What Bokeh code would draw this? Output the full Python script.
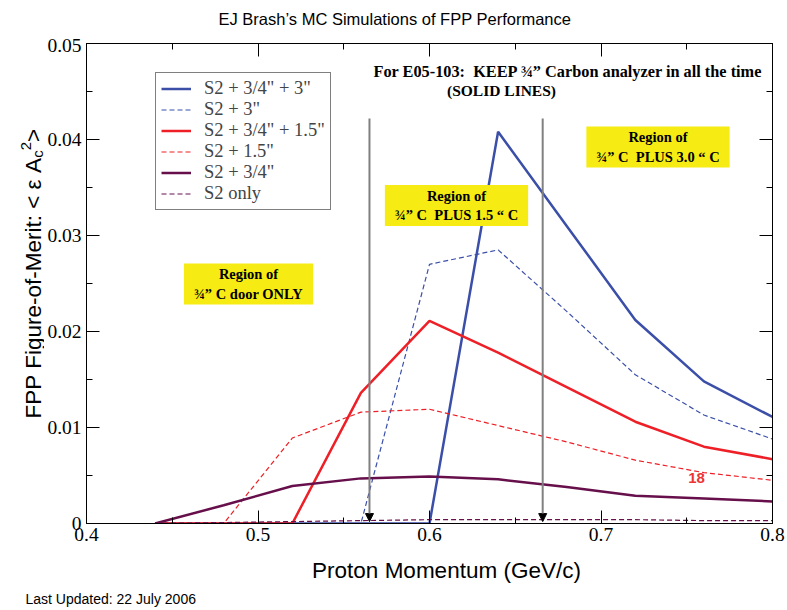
from bokeh.plotting import figure
from bokeh.layouts import column, row
from bokeh.models import (Range1d, LinearAxis, SingleIntervalTicker, NumeralTickFormatter,
                          Label, Arrow, NormalHead, Legend, LegendItem)
from bokeh.embed import file_html
from bokeh.resources import INLINE
from bokeh.core.validation import silence
from bokeh.core.validation.warnings import MISSING_RENDERERS

silence(MISSING_RENDERERS, True)

# ---------------- data ----------------
momentum = [0.44, 0.48, 0.52, 0.56, 0.60, 0.64, 0.68, 0.72, 0.76, 0.80]
fom_s2_34_3 = [0.0, 0.0, 0.0, 0.0, 0.0, 0.0408, 0.0310, 0.0212, 0.0148, 0.0111]
fom_s2_3 = [0.0, 0.0, 0.0, 0.0, 0.0270, 0.0285, 0.0221, 0.0155, 0.0113, 0.0088]
fom_s2_34_15 = [0.0, 0.0, 0.0, 0.0136, 0.0211, 0.0178, 0.0142, 0.0106, 0.0080, 0.0067]
fom_s2_15 = [0.0, 0.0, 0.0089, 0.0116, 0.0119, 0.0102, 0.0085, 0.0066, 0.0053, 0.0045]
fom_s2_34 = [0.0, 0.0019, 0.0039, 0.0047, 0.0049, 0.0046, 0.0038, 0.0029, 0.0026, 0.0023]
fom_s2_only = [0.0, 0.0001, 0.0002, 0.0003, 0.0004, 0.0004, 0.0004, 0.0004, 0.0003, 0.0003]

series_labels = ['S2 + 3/4" + 3"', 'S2 + 3"', 'S2 + 3/4" + 1.5"', 'S2 + 1.5"', 'S2 + 3/4"', 'S2 only']
series_values = [fom_s2_34_3, fom_s2_3, fom_s2_34_15, fom_s2_15, fom_s2_34, fom_s2_only]

region_boundaries = [0.565, 0.666]
arrow_top = 0.0422
arrow_bottom = 0.0002

x_range_limits = (0.4, 0.8)
y_range_limits = (0.0, 0.05)

title_text = "EJ Brash\u2019s MC Simulations of FPP Performance"
x_label_text = "Proton Momentum (GeV/c)"
y_label_main = "FPP Figure-of-Merit: < \u03b5 A"
y_label_sub = "c"
y_label_sup = "2"
y_label_end = ">"
footer_text = "Last Updated: 22 July 2006"
note_text = "For E05-103:\u00a0 KEEP \u00be\u201d Carbon analyzer in all the time"
note_text2 = "(SOLID LINES)"
region_texts = ["Region of\n\u00be\u201d C door ONLY",
                "Region of\n\u00be\u201d C\u00a0 PLUS 1.5 \u201c C",
                "Region of\n\u00be\u201d C\u00a0 PLUS 3.0 \u201c C"]
marker_text = "18"

# ---------------- styles ----------------
BLUE = "#3b4fa9"
RED = "#ee1f26"
PURPLE = "#660f4b"
colors = [BLUE, BLUE, RED, RED, PURPLE, PURPLE]
dashes = ["solid", "5 3", "solid", "5 3", "solid", "5 3"]
widths = [2.5, 1.2, 2.5, 1.2, 2.5, 1.2]
SERIF = "Liberation Serif"
SANS = "Liberation Sans"
YELLOW = "#f6ec13"

TOTAL_W, TOTAL_H = 786, 608
TOP_H = 38
LEFT_W = 44
MAIN_W = TOTAL_W - LEFT_W
MAIN_BOTTOM = 32
MAIN_H = 5 + 480 + MAIN_BOTTOM
BOTTOM_H = TOTAL_H - TOP_H - MAIN_H


def text_fig(w, h):
    f = figure(width=w, height=h, x_range=Range1d(0, w), y_range=Range1d(0, h),
               min_border=0, output_backend="svg", toolbar_location=None,
               x_axis_location=None, y_axis_location=None)
    f.outline_line_color = None
    f.xgrid.visible = False
    f.ygrid.visible = False
    f.background_fill_color = "white"
    f.border_fill_color = "white"
    return f


def add_label(fig, text, x, y, size, font=SANS, style="normal", color="black", align="center",
              baseline="middle", angle=0.0, units="data", **kw):
    L = Label(x=x, y=y, x_units=units, y_units=units, text=text,
              text_font=font, text_font_size=size, text_font_style=style,
              text_color=color, text_align=align, text_baseline=baseline, angle=angle, **kw)
    fig.add_layout(L)
    return L


# ---------------- main plot ----------------
p = figure(width=MAIN_W, height=MAIN_H, frame_width=686, frame_height=480,
           min_border_left=41, min_border_right=MAIN_W - 41 - 686, min_border_top=5,
           min_border_bottom=MAIN_BOTTOM,
           x_range=Range1d(*x_range_limits), y_range=Range1d(*y_range_limits),
           output_backend="svg", toolbar_location=None,
           x_axis_location=None, y_axis_location=None)
p.xgrid.visible = False
p.ygrid.visible = False
p.outline_line_color = "black"
p.outline_line_width = 1
p.background_fill_color = "white"
p.border_fill_color = "white"


def make_axis(kind, show_labels):
    if kind == "x":
        ticker = SingleIntervalTicker(interval=0.1, num_minor_ticks=2)
        fmt = NumeralTickFormatter(format="0.0")
    else:
        ticker = SingleIntervalTicker(interval=0.01, num_minor_ticks=2)
        fmt = NumeralTickFormatter(format="0.[00]")
    ax = LinearAxis(ticker=ticker, formatter=fmt)
    ax.major_tick_in = 13
    ax.major_tick_out = 0
    ax.minor_tick_in = 6
    ax.minor_tick_out = 0
    ax.axis_line_color = "black"
    ax.major_tick_line_color = "black"
    ax.minor_tick_line_color = "black"
    ax.major_label_text_font = SERIF
    if show_labels:
        ax.major_label_text_color = "black"
        ax.major_label_text_font_size = "19.5px"
        ax.major_label_standoff = 4 if kind == "x" else 5
    else:
        ax.major_label_text_color = None
        ax.major_label_text_font_size = "0px"
        ax.major_label_standoff = 0
    return ax


p.add_layout(make_axis("y", True), "left")
p.add_layout(make_axis("x", True), "below")
p.add_layout(make_axis("y", False), "right")
p.add_layout(make_axis("x", False), "above")

items = []
for lab_, vals, c, d, w in zip(series_labels, series_values, colors, dashes, widths):
    r = p.line(momentum, vals, line_color=c, line_dash=d, line_width=w)
    items.append(LegendItem(label=lab_, renderers=[r]))

legend = Legend(items=items, location=(69, 313),
                border_line_color="black", border_line_width=1,
                background_fill_color="white", background_fill_alpha=1.0,
                label_text_font=SERIF, label_text_font_size="18.5px",
                glyph_width=30, glyph_height=19, label_height=19,
                spacing=0, padding=5, label_standoff=13, margin=0)
p.add_layout(legend, "center")

for b in region_boundaries:
    p.add_layout(Arrow(end=NormalHead(size=8, fill_color="black", line_color="black", line_width=1),
                       x_start=b, y_start=arrow_top, x_end=b, y_end=arrow_bottom,
                       line_color="#808080", line_width=2))

# in-frame texts (screen units measured from the frame's bottom-left)
add_label(p, note_text, 287, 452, "16.3px", font=SERIF, style="bold", align="left", units="screen")
add_label(p, note_text2, 415, 433, "15.5px", font=SERIF, style="bold", units="screen")
region_centers = [(162, 239.5), (370, 318), (571.5, 376.5)]
for t, (cx, cy) in zip(region_texts, region_centers):
    add_label(p, t, cx, cy, "14.5px", font=SERIF, style="bold", units="screen",
              background_fill_color=YELLOW, background_fill_alpha=1.0, padding=(10, 3))
add_label(p, marker_text, 610, 45.5, "15px", style="bold", color="#ee3333", units="screen")

# ---------------- surrounding text panels ----------------
top = text_fig(TOTAL_W, TOP_H)
add_label(top, title_text, 218, 20, "16.5px", align="left")

left = text_fig(LEFT_W, MAIN_H)
ROT = 1.5707963
ytop = MAIN_H - 123   # data y of the end of the main part of the rotated label
add_label(left, y_label_main, 33, ytop, "22.5px", align="right", baseline="alphabetic", angle=ROT)
add_label(left, y_label_sub, 37, ytop, "15px", align="left", baseline="alphabetic", angle=ROT)
add_label(left, y_label_sup, 25, ytop + 8, "15px", align="left", baseline="alphabetic", angle=ROT)
add_label(left, y_label_end, 33, ytop + 17, "22.5px", align="left", baseline="alphabetic", angle=ROT)

bottom = text_fig(TOTAL_W, BOTTOM_H)
add_label(bottom, x_label_text, 446, 38, "22.5px")
add_label(bottom, footer_text, 25, 10, "14px", align="left", baseline="alphabetic")

layout = column(top, row(left, p), bottom)
open("out.html", "w").write(file_html(layout, INLINE))
